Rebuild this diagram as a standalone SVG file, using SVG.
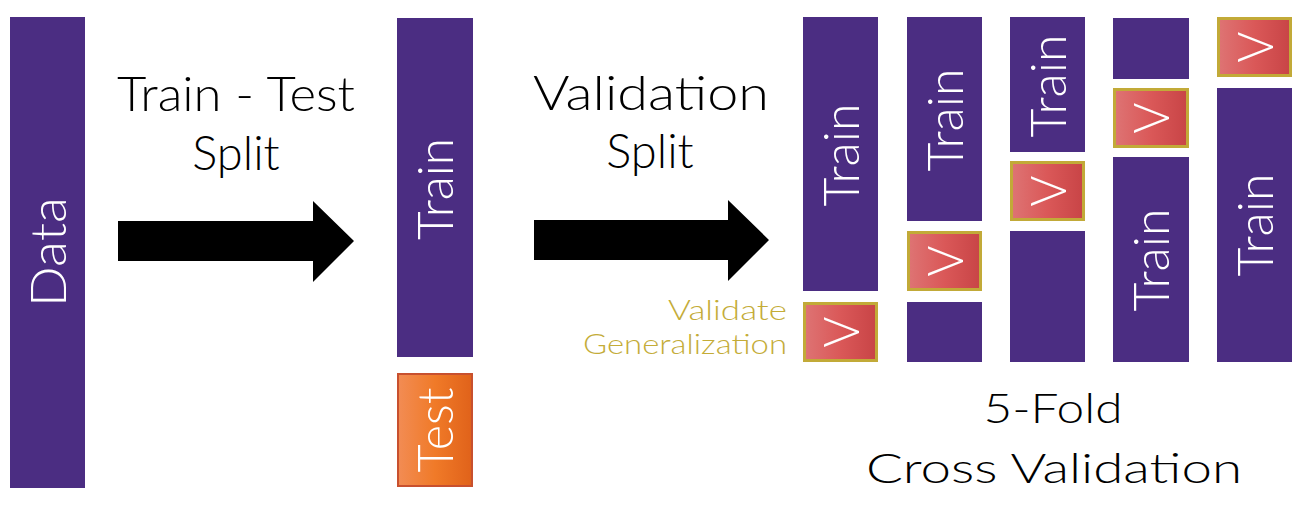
<svg xmlns="http://www.w3.org/2000/svg" width="1300" height="529" viewBox="0 0 1300 529">
<style>
.p{fill:#4B2D82}
.v{fill:url(#gv);stroke:#C2AA38;stroke-width:3}
.t{fill:#FFFFFF;font-family:Lato,"Liberation Sans",Arial,sans-serif;font-weight:300;font-size:50px;text-anchor:middle}
.h{fill:#000000;font-family:Lato,"Liberation Sans",Arial,sans-serif;font-weight:300;text-anchor:middle}
.g{fill:#C4AC38;font-family:Lato,"Liberation Sans",Arial,sans-serif;font-weight:300;font-size:28px;text-anchor:end}
</style>
<defs>
<linearGradient id="gv" x1="0" y1="0" x2="1" y2="0">
<stop offset="0" stop-color="#DE7474"/><stop offset="0.5" stop-color="#DA5858"/><stop offset="1" stop-color="#C84446"/>
</linearGradient>
<linearGradient id="go" x1="0" y1="0" x2="1" y2="0">
<stop offset="0" stop-color="#F28C54"/><stop offset="0.5" stop-color="#F07A28"/><stop offset="1" stop-color="#E0621A"/>
</linearGradient>
</defs>
<rect width="1300" height="529" fill="#FFFFFF"/>
<g id="data">
<rect class="p" x="10" y="17" width="75" height="471"/>
<text class="t" transform="translate(66,252) rotate(-90)" textLength="110" lengthAdjust="spacingAndGlyphs">Data</text>
</g>
<g id="train-main">
<rect class="p" x="397" y="18" width="76" height="339"/>
<text class="t" transform="translate(453,189) rotate(-90)" textLength="102" lengthAdjust="spacingAndGlyphs">Train</text>
</g>
<g id="test">
<rect x="398" y="374" width="74" height="112" fill="url(#go)" stroke="#C8502E" stroke-width="2"/>
<text class="t" transform="translate(453,430) rotate(-90)" textLength="85" lengthAdjust="spacingAndGlyphs">Test</text>
</g>
<g id="label-tts">
<text class="h" x="236" y="111" font-size="47" textLength="238" lengthAdjust="spacingAndGlyphs">Train - Test</text>
<text class="h" x="236" y="170" font-size="47">Split</text>
</g>
<g id="label-vs">
<text class="h" x="651" y="110" font-size="47" textLength="236" lengthAdjust="spacingAndGlyphs">Validation</text>
<text class="h" x="650" y="168" font-size="47">Split</text>
</g>
<g id="label-vg">
<text class="g" x="787" y="320" textLength="119" lengthAdjust="spacingAndGlyphs">Validate</text>
<text class="g" x="787" y="354" textLength="204" lengthAdjust="spacingAndGlyphs">Generalization</text>
</g>
<g id="fold1">
<rect class="p" x="803" y="17" width="75" height="274"/>
<text class="t" transform="translate(859,155) rotate(-90)" textLength="103" lengthAdjust="spacingAndGlyphs">Train</text>
<rect class="v" x="804.5" y="303.5" width="72" height="57"/>
<text class="t" transform="translate(859,332) rotate(-90)" textLength="31" lengthAdjust="spacingAndGlyphs">V</text>
</g>
<g id="fold2">
<rect class="p" x="907" y="17" width="75" height="204"/>
<text class="t" transform="translate(963,120) rotate(-90)" textLength="103" lengthAdjust="spacingAndGlyphs">Train</text>
<rect class="v" x="908.5" y="232.5" width="72" height="57"/>
<text class="t" transform="translate(963,261) rotate(-90)" textLength="31" lengthAdjust="spacingAndGlyphs">V</text>
<rect class="p" x="907" y="302" width="75" height="60"/>
</g>
<g id="fold3">
<rect class="p" x="1010" y="17" width="75" height="135"/>
<text class="t" transform="translate(1066,86) rotate(-90)" textLength="103" lengthAdjust="spacingAndGlyphs">Train</text>
<rect class="v" x="1011.5" y="162.5" width="72" height="57"/>
<text class="t" transform="translate(1066,191) rotate(-90)" textLength="31" lengthAdjust="spacingAndGlyphs">V</text>
<rect class="p" x="1010" y="231" width="75" height="131"/>
</g>
<g id="fold4">
<rect class="p" x="1113" y="18" width="76" height="61"/>
<rect class="v" x="1114.5" y="89.5" width="73" height="57"/>
<text class="t" transform="translate(1169,118) rotate(-90)" textLength="31" lengthAdjust="spacingAndGlyphs">V</text>
<rect class="p" x="1113" y="157" width="76" height="205"/>
<text class="t" transform="translate(1169,260) rotate(-90)" textLength="103" lengthAdjust="spacingAndGlyphs">Train</text>
</g>
<g id="fold5">
<rect class="v" x="1218.5" y="18.5" width="72" height="57"/>
<text class="t" transform="translate(1273,47) rotate(-90)" textLength="31" lengthAdjust="spacingAndGlyphs">V</text>
<rect class="p" x="1217" y="88" width="75" height="274"/>
<text class="t" transform="translate(1273,225) rotate(-90)" textLength="103" lengthAdjust="spacingAndGlyphs">Train</text>
</g>
<g id="label-cv">
<text class="h" x="1053" y="423" font-size="42" textLength="139" lengthAdjust="spacingAndGlyphs">5-Fold</text>
<text class="h" x="1054" y="483" font-size="42" textLength="376" lengthAdjust="spacingAndGlyphs">Cross Validation</text>
</g>
<g id="connectors">
<polygon points="118,221 313,221 313,201 354,241 313,282 313,261 118,261" fill="#000000"/>
<polygon points="534,220 728,220 728,200 769,240 728,281 728,260 534,260" fill="#000000"/>
</g>
</svg>
